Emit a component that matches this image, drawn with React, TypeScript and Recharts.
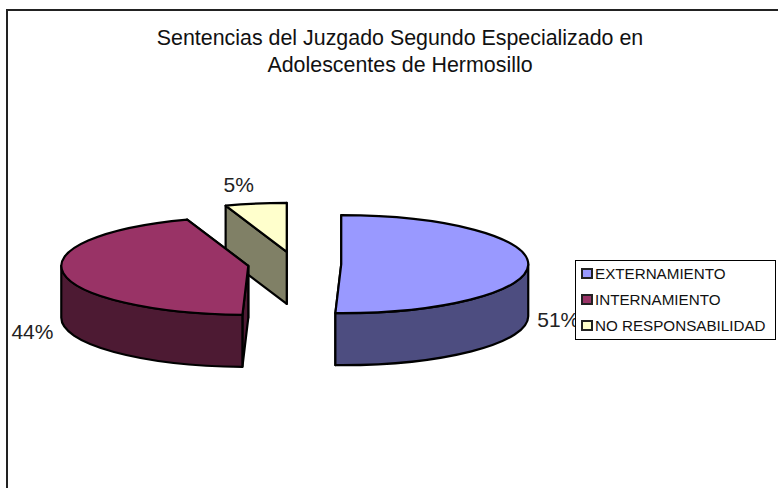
import React from 'react';
import { PieChart, Pie, Legend } from 'recharts';

const categories = ['EXTERNAMIENTO', 'INTERNAMIENTO', 'NO RESPONSABILIDAD'];
const shares = [50.5, 44.2, 5.3];
const topColors = ['#9999FF', '#993366', '#FFFFCC'];
const sideColors = ['#4D4D80', '#4D1A33', '#808066'];
const labelOffsets = [[30, 55], [-31, 58], [-17, -19]];
const titleLines = ['Sentencias del Juzgado Segundo Especializado en', 'Adolescentes de Hermosillo'];

// The slices are listed back to front, so that the front ones paint last.
const drawOrder = [2, 1, 0];
const table = drawOrder.map((i) => ({
  name: categories[i],
  value: shares[i],
  fill: topColors[i],
  side: sideColors[i],
  offset: labelOffsets[i],
}));

const SQUASH = 49 / 187;
const DEPTH = 52;
const EXPLODE = 0.25;
const FONT = '"Liberation Sans", Arial, sans-serif';

const rad = (d: number) => (d * Math.PI) / 180;

function geometry(p: any) {
  const a = 90 - Math.max(p.startAngle, p.endAngle);
  const b = 90 - Math.min(p.startAngle, p.endAngle);
  const t1 = ((a % 360) + 360) % 360;
  const t2 = t1 + (b - a);
  const rx = p.outerRadius;
  const ry = rx * SQUASH;
  const mid = rad((t1 + t2) / 2);
  const x0 = p.cx + EXPLODE * rx * Math.sin(mid);
  const y0 = p.cy - EXPLODE * ry * Math.cos(mid);
  const pt = (t: number, d = 0): [number, number] => [
    x0 + rx * Math.sin(rad(t)),
    y0 - ry * Math.cos(rad(t)) + d,
  ];
  return { t1, t2, rx, ry, x0, y0, pt, mid };
}

function Slice3D(props: any) {
  const { t1, t2, rx, ry, x0, y0, pt } = geometry(props);
  const stroke = { stroke: '#000', strokeWidth: 2.2, strokeLinejoin: 'round' as const };
  const big = t2 - t1 > 180 ? 1 : 0;
  const [sx, sy] = pt(t1);
  const [ex, ey] = pt(t2);
  const topPath = `M${x0},${y0} L${sx},${sy} A${rx},${ry} 0 ${big} 1 ${ex},${ey} Z`;
  const cut = (t: number) => {
    const [x, y] = pt(t);
    return `M${x0},${y0} L${x},${y} L${x},${y + DEPTH} L${x0},${y0 + DEPTH} Z`;
  };
  const w1 = Math.max(t1, 90);
  const w2 = Math.min(t2, 270);
  let wall = null;
  if (w2 > w1) {
    const [ax, ay] = pt(w1);
    const [bx, by] = pt(w2);
    wall = `M${ax},${ay} A${rx},${ry} 0 0 1 ${bx},${by} L${bx},${by + DEPTH} A${rx},${ry} 0 0 0 ${ax},${ay + DEPTH} Z`;
  }
  const side = props.side ?? props.payload?.side;
  return (
    <g>
      <path d={cut(t2)} fill={side} {...stroke} />
      <path d={cut(t1)} fill={side} {...stroke} />
      {wall && <path d={wall} fill={side} {...stroke} />}
      <path d={topPath} fill={props.fill} {...stroke} />
    </g>
  );
}

function SliceLabel(props: any) {
  const { rx, ry, x0, y0, mid } = geometry({
    ...props,
    startAngle: props.midAngle + 0.001,
    endAngle: props.midAngle - 0.001,
  });
  const off = props.offset ?? props.payload?.offset ?? [0, 0];
  const x = x0 + rx * Math.sin(mid) + off[0];
  const y = y0 - ry * Math.cos(mid) + off[1];
  return (
    <text x={x} y={y} textAnchor="middle" dominantBaseline="central" fontFamily={FONT} fontSize={21} fill="#222">
      {`${Math.round(props.percent * 100)}%`}
    </text>
  );
}

function LegendBox({ payload }: any) {
  const items = [...(payload ?? [])].sort(
    (a: any, b: any) => categories.indexOf(a.value) - categories.indexOf(b.value),
  );
  return (
    <div
      style={{
        boxSizing: 'border-box',
        width: 201,
        height: 80,
        background: '#fff',
        border: '1px solid #000',
        fontFamily: FONT,
        fontSize: 15.2,
        color: '#111',
        paddingLeft: 5,
        paddingTop: 0,
      }}
    >
      {items.map((it: any, i: number) => (
        <div
          key={it.value}
          style={{
            display: 'flex',
            alignItems: 'center',
            height: 26.3,
            marginTop: i === 0 ? -1 : 0,
            whiteSpace: 'nowrap',
          }}
        >
          <span
            style={{
              boxSizing: 'border-box',
              display: 'inline-block',
              width: 12,
              height: 11,
              marginRight: 2,
              background: it.color,
              border: '2px solid #222',
            }}
          />
          {it.value}
        </div>
      ))}
    </div>
  );
}

export default function App() {
  return (
    <div style={{ position: 'absolute', left: 0, top: 0, width: 778, height: 488, background: '#fff', overflow: 'hidden' }}>
      <div style={{ position: 'absolute', left: 6, top: 9, right: 0, height: 2, background: '#222' }} />
      <div style={{ position: 'absolute', left: 6, top: 9, bottom: 0, width: 2, background: '#222' }} />
      <div
        style={{
          position: 'absolute',
          left: 0,
          width: 800,
          top: 25,
          textAlign: 'center',
          fontFamily: FONT,
          fontSize: 21.4,
          lineHeight: '27px',
          color: '#111',
        }}
      >
        {titleLines.map((l) => (
          <div key={l}>{l}</div>
        ))}
      </div>
      <div style={{ position: 'absolute', left: 0, top: 0 }}>
        <PieChart width={778} height={488} margin={{ top: 0, right: 0, bottom: 0, left: 0 }}>
          <Pie
            data={table}
            dataKey="value"
            nameKey="name"
            cx={294.5}
            cy={264}
            innerRadius={0}
            outerRadius={187}
            startAngle={90}
            endAngle={450}
            paddingAngle={0}
            stroke="#000"
            isAnimationActive={false}
            shape={Slice3D}
            label={SliceLabel}
            labelLine={false}
          />
          <Legend
            content={LegendBox}
            layout="vertical"
            wrapperStyle={{ position: 'absolute', left: 575, top: 260, width: 201, height: 80 }}
          />
        </PieChart>
      </div>
    </div>
  );
}
